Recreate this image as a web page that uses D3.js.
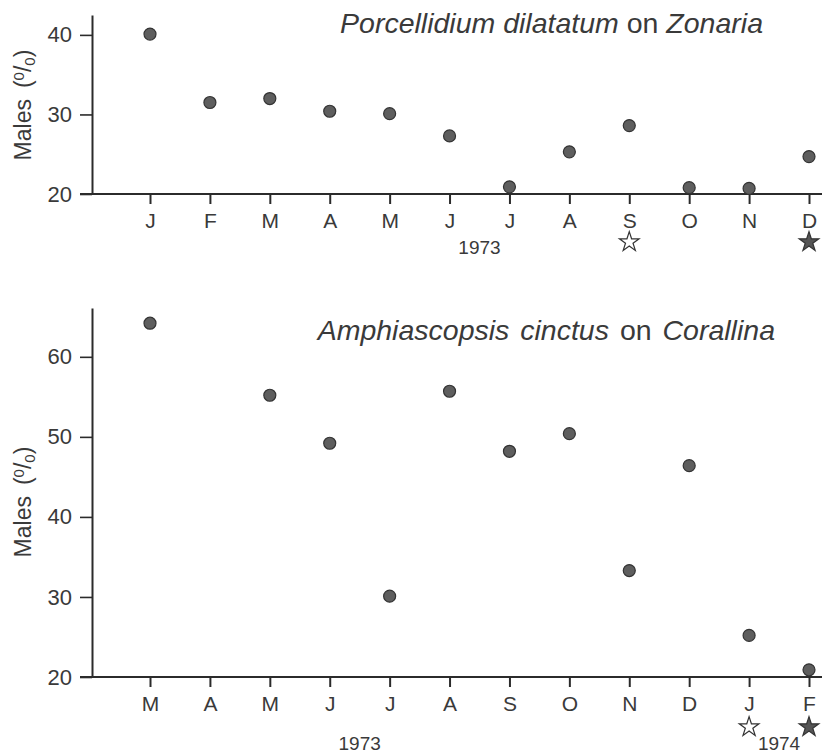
<!DOCTYPE html>
<html>
<head>
<meta charset="utf-8">
<script src="https://cdn.jsdelivr.net/npm/d3@7"></script>
<style>
  html, body { margin: 0; padding: 0; background: #fff; }
  svg text { font-family: "Liberation Sans", Arial, Helvetica, sans-serif; fill: #3a3a3a; }
</style>
</head>
<body>
<div id="chart"></div>
<script>
// top panel: Porcellidium dilatatum on Zonaria, Jan-Dec 1973
const topMonths = ["J", "F", "M", "A", "M", "J", "J", "A", "S", "O", "N", "D"];
const topMales = [40.1, 31.5, 32.0, 30.4, 30.1, 27.3, 20.9, 25.3, 28.6, 20.8, 20.7, 24.7];
const topTicks = [20, 30, 40];

// bottom panel: Amphiascopsis cinctus on Corallina, Mar 1973 - Feb 1974
const botMonths = ["M", "A", "M", "J", "J", "A", "S", "O", "N", "D", "J", "F"];
const botMales = [64.2, null, 55.2, 49.2, 30.1, 55.7, 48.2, 50.4, 33.3, 46.4, 25.2, 20.9];
const botTicks = [20, 30, 40, 50, 60];

const W = 823, H = 753;
const axisColor = "#2b2b2b";

const svg = d3.select("#chart")
    .append("svg")
    .attr("width", W)
    .attr("height", H);

function panel(cfg) {
    const g = svg.append("g");
    const idx = d3.range(cfg.months.length);

    const x = d3.scalePoint().domain(idx).range([150, 809]);
    const y = d3.scaleLinear().domain(cfg.yDomain).range(cfg.yRange);

    // y axis
    const yAxis = g.append("g")
        .attr("transform", "translate(92,0)")
        .call(d3.axisLeft(y).tickValues(cfg.ticks).tickSize(12).tickSizeOuter(0).tickPadding(8));
    yAxis.select(".domain").attr("stroke", axisColor).attr("stroke-width", 2);
    yAxis.selectAll(".tick line").attr("stroke", axisColor).attr("stroke-width", 1.6);
    yAxis.selectAll(".tick text")
        .style("font-size", "22px")
        .attr("fill", "#3a3a3a");

    // x axis
    const base = y(cfg.yDomain[0]);
    g.append("line")
        .attr("x1", 80).attr("x2", 822)
        .attr("y1", base).attr("y2", base)
        .attr("stroke", axisColor).attr("stroke-width", 2);
    const xAxis = g.append("g")
        .attr("transform", `translate(0,${base})`)
        .call(d3.axisBottom(x).tickSize(10).tickPadding(9).tickFormat(i => cfg.months[i]));
    xAxis.select(".domain").remove();
    xAxis.selectAll(".tick line").attr("stroke", axisColor).attr("stroke-width", 2);
    xAxis.selectAll(".tick text")
        .style("font-size", "21px")
        .attr("fill", "#3a3a3a");

    // points
    g.selectAll("circle.pt")
        .data(idx.filter(i => cfg.values[i] != null))
        .join("circle")
        .attr("class", "pt")
        .attr("cx", i => x(i))
        .attr("cy", i => y(cfg.values[i]))
        .attr("r", 6)
        .attr("fill", "#5e5e5e")
        .attr("stroke", "#333")
        .attr("stroke-width", 1.2);

    // stars under months
    const star = d3.symbol().type(d3.symbolStar).size(120);
    g.selectAll("path.star")
        .data(cfg.stars)
        .join("path")
        .attr("class", "star")
        .attr("transform", d => `translate(${x(d.i)},${base + cfg.starDy})`)
        .attr("d", star)
        .attr("fill", d => d.filled ? "#555" : "#fff")
        .attr("stroke", "#333")
        .attr("stroke-width", 1.2);

    // year labels
    cfg.years.forEach(yr => {
        g.append("text")
            .attr("x", (x(yr.from) + x(yr.to)) / 2)
            .attr("y", base + yr.dy)
            .attr("text-anchor", "middle")
            .style("font-size", "19px")
            .text(yr.label);
    });

    // title
    const t = g.append("text")
        .attr("x", cfg.titleX)
        .attr("y", cfg.titleY)
        .attr("text-anchor", "end")
        .style("font-size", "28.5px")
        .style("word-spacing", cfg.wordSpacing);
    cfg.title.forEach(part => {
        t.append("tspan")
            .style("font-style", part.italic ? "italic" : "normal")
            .text(part.text);
    });

    // y label
    const yl = g.append("text")
        .attr("transform", `translate(31,${cfg.labelY}) rotate(-90)`)
        .attr("text-anchor", "middle")
        .style("font-size", "23px");
    yl.append("tspan").text("Males\u2009 (");
    yl.append("tspan").attr("dy", -7).style("font-size", "15px").text("0");
    yl.append("tspan").attr("dy", 7).text("/");
    yl.append("tspan").attr("dy", 4).style("font-size", "15px").text("0");
    yl.append("tspan").attr("dy", -4).text(")");
}

panel({
    months: topMonths,
    values: topMales,
    ticks: topTicks,
    yDomain: [20, 42.5],
    yRange: [194, 15],
    stars: [{ i: 8, filled: false }, { i: 11, filled: true }],
    starDy: 48,
    years: [{ label: "1973", from: 5, to: 6, dy: 60 }],
    title: [
        { text: "Porcellidium dilatatum", italic: true },
        { text: " on ", italic: false },
        { text: "Zonaria", italic: true }
    ],
    titleX: 763,
    titleY: 33,
    wordSpacing: "0px",
    labelY: 105
});

panel({
    months: botMonths,
    values: botMales,
    ticks: botTicks,
    yDomain: [20, 66.1],
    yRange: [677, 308],
    stars: [{ i: 10, filled: false }, { i: 11, filled: true }],
    starDy: 50,
    years: [
        { label: "1973", from: 3, to: 4, dy: 73 },
        { label: "1974", from: 10, to: 11, dy: 73 }
    ],
    title: [
        { text: "Amphiascopsis cinctus", italic: true },
        { text: " on ", italic: false },
        { text: "Corallina", italic: true }
    ],
    titleX: 775,
    titleY: 340,
    wordSpacing: "3px",
    labelY: 502
});
</script>
</body>
</html>
